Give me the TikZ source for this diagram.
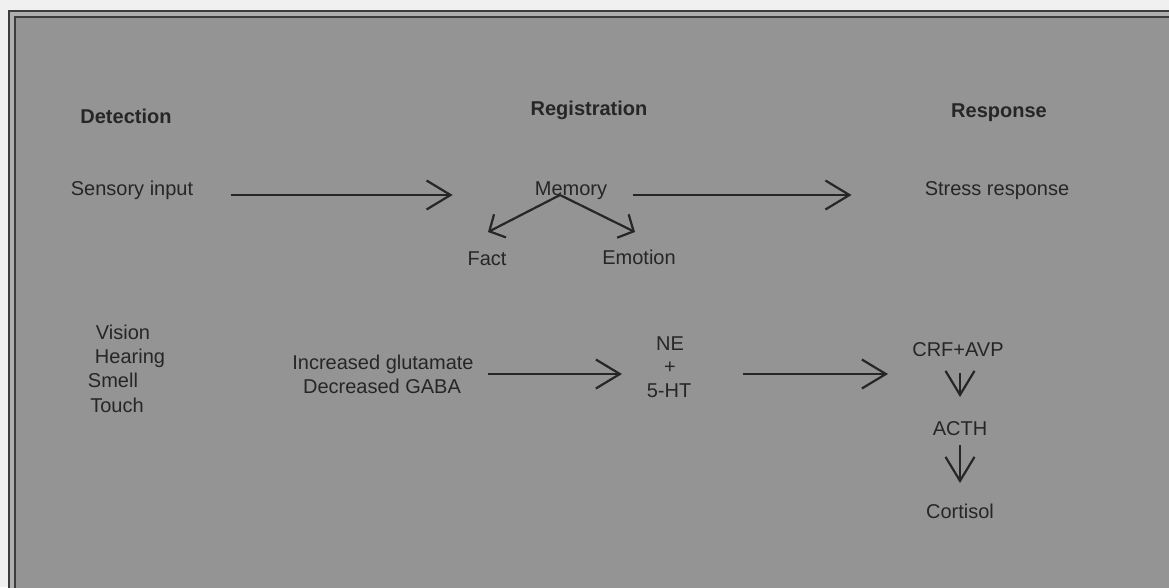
\documentclass[tikz,border=0pt]{standalone}
\usepackage{fontspec}
\setmainfont{Liberation Sans}
\usetikzlibrary{arrows.meta}
\definecolor{outside}{RGB}{240,240,240}
\definecolor{bggray}{RGB}{148,148,148}
\definecolor{gapgray}{RGB}{175,175,175}
\definecolor{framecol}{RGB}{60,60,60}
\definecolor{inkcol}{RGB}{38,38,38}
\tikzset{
  lbl/.style={inner sep=0pt, anchor=base, text=inkcol, font=\fontsize{20}{24}\selectfont},
  hdr/.style={lbl, font=\fontsize{20}{24}\selectfont\bfseries},
  bigarrow/.style={draw=inkcol, line width=2.2pt, -{Straight Barb[length=24pt,width=29pt]}},
  smallarrow/.style={draw=inkcol, line width=2.2pt, -{Straight Barb[length=12pt,width=26pt]}},
  frameline/.style={draw=framecol, line width=2.2pt}
}
\begin{document}
\begin{tikzpicture}[x=1pt,y=-1pt]
\clip (0,0) rectangle (1169,587);
\fill[outside] (0,0) rectangle (1169,587);
\fill[gapgray] (9,11) rectangle (1190,600);
\fill[bggray] (15,17) rectangle (1190,600);
\draw[frameline] (9,600) -- (9,11) -- (1190,11);
\draw[frameline] (15,600) -- (15,17) -- (1190,17);

% headers
\node[hdr] (det) at (126,123) {Detection};
\node[hdr] (reg) at (589,115) {Registration};
\node[hdr] (resp) at (999,117) {Response};

% top row
\node[lbl] (sens) at (132,195) {Sensory input};
\node[lbl] (mem) at (571,195) {Memory};
\node[lbl] (fact) at (487,265) {Fact};
\node[lbl] (emo) at (639,264) {Emotion};
\node[lbl] (stress) at (997,195) {Stress response};

% bottom left list
\node[lbl] (vis) at (123,339) {Vision};
\node[lbl] (hear) at (130,363) {Hearing};
\node[lbl] (smell) at (113,387) {Smell};
\node[lbl] (touch) at (117,412) {Touch};

\node[lbl] (inc) at (383,369) {Increased glutamate};
\node[lbl] (dec) at (382,393) {Decreased GABA};

\node[lbl] (ne) at (670,350) {NE};
\node[lbl] (plus) at (670,373) {+};
\node[lbl] (ht) at (669,397) {5-HT};

\node[lbl] (crf) at (958,356) {CRF+AVP};
\node[lbl] (acth) at (960,435) {ACTH};
\node[lbl] (cort) at (960,518) {Cortisol};

% connectors
\draw[bigarrow] ([xshift=38pt]sens.base east) -- ([xshift=-82pt]mem.base west);
\draw[bigarrow] ([xshift=26pt]mem.base east) -- ([xshift=-73pt]stress.base west);
\draw[smallarrow] ([xshift=-11pt]mem.base) -- ([xshift=1pt,yshift=33pt]fact.base);
\draw[smallarrow] ([xshift=-11pt]mem.base) -- ([xshift=-4pt,yshift=32pt]emo.base);
\draw[bigarrow] ([xshift=14pt,yshift=-5pt]inc.base east) -- ([xshift=-48pt,yshift=-1pt]plus.base);
\draw[bigarrow] ([xshift=73pt,yshift=-1pt]plus.base) -- ([xshift=-70pt,yshift=-18pt]crf.base);
\draw[bigarrow] ([xshift=2pt,yshift=-17pt]crf.base) -- ([yshift=38pt]acth.base);
\draw[bigarrow] ([yshift=-10pt]acth.base) -- ([yshift=35pt]cort.base);
\end{tikzpicture}
\end{document}
